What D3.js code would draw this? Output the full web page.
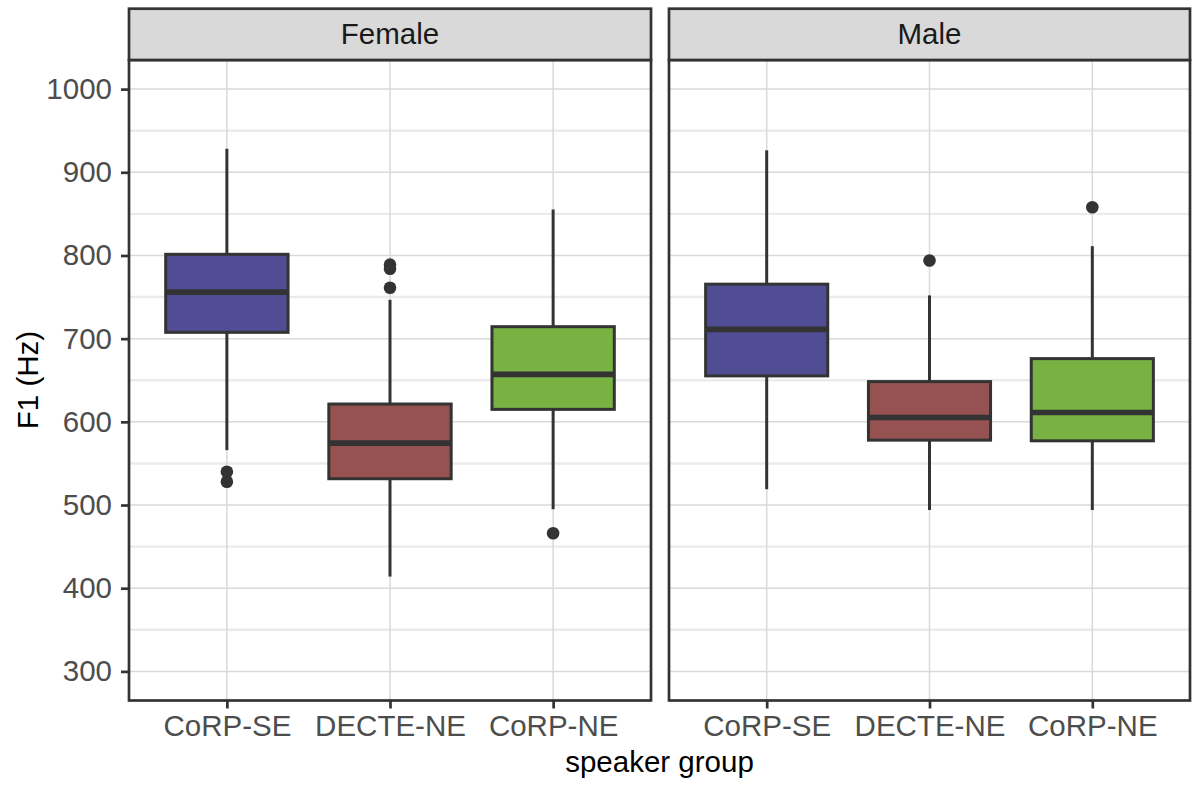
<html lang="en">
<head>
    <meta charset="UTF-8">
    <title>F1 by speaker group</title>
    <script src="https://d3js.org/d3.v7.min.js"></script>
    <style>
        body { margin: 0; background: #fff; }
        text { font-family: "Liberation Sans", Arial, Helvetica, sans-serif; }
    </style>
</head>
<body>
    <svg width="1192" height="787"></svg>
    <script>
        // data
        var sexes = ["Female", "Male"];
        var groups = ["CoRP-SE", "DECTE-NE", "CoRP-NE"];
        var groupColors = ["#514D94", "#955250", "#78B243"];
        var yTicks = [300, 400, 500, 600, 700, 800, 900, 1000];
        var yMinor = [350, 450, 550, 650, 750, 850, 950];

        var femaleLower = [566, 414, 495];
        var femaleQ1 = [707.6, 531.6, 615];
        var femaleMedian = [756, 574.4, 657];
        var femaleQ3 = [801.4, 621.4, 714.4];
        var femaleUpper = [928.3, 746.7, 855.3];
        var femaleOutliers = [[540, 528], [789, 784, 761.2], [466]];

        var maleLower = [519, 494, 494];
        var maleQ1 = [655.2, 578, 577.2];
        var maleMedian = [711.2, 605.2, 611.2];
        var maleQ3 = [765.5, 648.4, 676];
        var maleUpper = [926.4, 752, 811.2];
        var maleOutliers = [[], [794], [858]];

        var stats = {
            Female: { lo: femaleLower, q1: femaleQ1, med: femaleMedian, q3: femaleQ3, hi: femaleUpper, out: femaleOutliers },
            Male: { lo: maleLower, q1: maleQ1, med: maleMedian, q3: maleQ3, hi: maleUpper, out: maleOutliers }
        };

        var svg = d3.select("svg");
        var dark = "#333333";

        var panelTop = 60, panelBottom = 700.5, stripTop = 8.7;
        var panelX = [[129, 651], [669, 1190]];

        var y = d3.scaleLinear().domain([265, 1035]).range([panelBottom, panelTop]);

        sexes.forEach(function (sex, p) {
            var x0 = panelX[p][0], x1 = panelX[p][1];
            var x = d3.scalePoint().domain(groups).range([x0, x1]).padding(0.6);
            var boxW = x.step() * 0.75;
            var s = stats[sex];
            var g = svg.append("g");

            // grid
            g.selectAll(".minor").data(yMinor).enter().append("line")
                .attr("x1", x0).attr("x2", x1)
                .attr("y1", function (d) { return y(d); }).attr("y2", function (d) { return y(d); })
                .attr("stroke", "#EBEBEB").attr("stroke-width", 2.4);
            g.selectAll(".major").data(yTicks).enter().append("line")
                .attr("x1", x0).attr("x2", x1)
                .attr("y1", function (d) { return y(d); }).attr("y2", function (d) { return y(d); })
                .attr("stroke", "#D9D9D9").attr("stroke-width", 1.5);
            g.selectAll(".vgrid").data(groups).enter().append("line")
                .attr("x1", function (d) { return x(d); }).attr("x2", function (d) { return x(d); })
                .attr("y1", panelTop).attr("y2", panelBottom)
                .attr("stroke", "#D9D9D9").attr("stroke-width", 1.5);

            // boxes
            groups.forEach(function (grp, i) {
                var cx = x(grp);
                g.append("line").attr("x1", cx).attr("x2", cx)
                    .attr("y1", y(s.q3[i])).attr("y2", y(s.hi[i]))
                    .attr("stroke", dark).attr("stroke-width", 3);
                g.append("line").attr("x1", cx).attr("x2", cx)
                    .attr("y1", y(s.q1[i])).attr("y2", y(s.lo[i]))
                    .attr("stroke", dark).attr("stroke-width", 3);
                g.append("rect")
                    .attr("x", cx - boxW / 2).attr("width", boxW)
                    .attr("y", y(s.q3[i])).attr("height", y(s.q1[i]) - y(s.q3[i]))
                    .attr("fill", groupColors[i]).attr("stroke", dark).attr("stroke-width", 3);
                g.append("line").attr("x1", cx - boxW / 2).attr("x2", cx + boxW / 2)
                    .attr("y1", y(s.med[i])).attr("y2", y(s.med[i]))
                    .attr("stroke", dark).attr("stroke-width", 5.7);
                g.selectAll(".out" + i).data(s.out[i]).enter().append("circle")
                    .attr("cx", cx).attr("cy", function (d) { return y(d); })
                    .attr("r", 6.3).attr("fill", dark);
            });

            // panel border
            g.append("rect").attr("x", x0).attr("y", panelTop)
                .attr("width", x1 - x0).attr("height", panelBottom - panelTop)
                .attr("fill", "none").attr("stroke", dark).attr("stroke-width", 2.7);

            // strip
            g.append("rect").attr("x", x0).attr("y", stripTop)
                .attr("width", x1 - x0).attr("height", panelTop - stripTop)
                .attr("fill", "#D9D9D9").attr("stroke", dark).attr("stroke-width", 2.7);
            g.append("text").attr("x", (x0 + x1) / 2).attr("y", 44)
                .attr("text-anchor", "middle").attr("font-size", 29.5).attr("fill", "#1A1A1A")
                .text(sex);

            // x axis
            var xa = g.append("g").attr("transform", "translate(0," + panelBottom + ")")
                .call(d3.axisBottom(x).tickSize(8).tickPadding(7));
            xa.select(".domain").remove();
            xa.selectAll(".tick line").attr("stroke", dark).attr("stroke-width", 2.7);
            xa.selectAll(".tick text").attr("font-size", 29.5).attr("fill", "#4D4D4D")
                .attr("font-family", "Liberation Sans, Arial, sans-serif");

            if (p === 0) {
                var ya = g.append("g").attr("transform", "translate(" + x0 + ",0)")
                    .call(d3.axisLeft(y).tickValues(yTicks).tickFormat(d3.format("d"))
                        .tickSize(8).tickPadding(9));
                ya.select(".domain").remove();
                ya.selectAll(".tick line").attr("stroke", dark).attr("stroke-width", 2.7);
                ya.selectAll(".tick text").attr("font-size", 29.5).attr("fill", "#4D4D4D")
                    .attr("font-family", "Liberation Sans, Arial, sans-serif");
            }
        });

        svg.append("text").attr("x", 659.5).attr("y", 772)
            .attr("text-anchor", "middle").attr("font-size", 29.5).attr("fill", "#000")
            .text("speaker group");
        svg.append("text").attr("transform", "translate(38,380) rotate(-90)")
            .attr("text-anchor", "middle").attr("font-size", 29.5).attr("fill", "#000")
            .text("F1 (Hz)");
    </script>
</body>
</html>
